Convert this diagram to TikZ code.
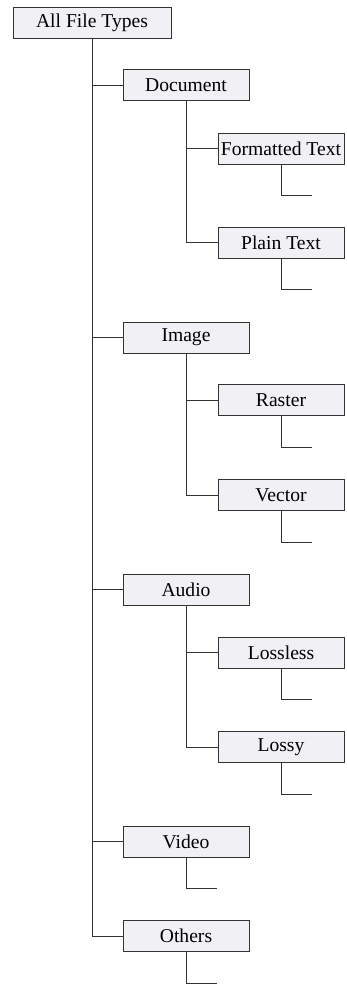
\documentclass[tikz,border=0pt]{standalone}
\usepackage{fontspec}
\setmainfont{Liberation Serif}
\definecolor{boxfill}{RGB}{240,240,245}
\definecolor{linegray}{RGB}{50,50,50}

\begin{document}
\begin{tikzpicture}[x=1pt,y=-1pt,
    typebox/.style={draw=linegray,fill=boxfill,line width=0.9pt,minimum width=126pt,minimum height=31pt,inner sep=0pt,font=\fontsize{19.6}{22}\selectfont},
    link/.style={draw=linegray,line width=0.9pt}]
  \useasboundingbox (0,0) rectangle (347,984);

  \node[typebox,minimum width=158pt] (all) at (92,22.5) {All File Types};

  \node[typebox] (doc) at (186,85) {Document};
  \node[typebox] (fmt) at (281,148.5) {Formatted Text};
  \node[typebox] (plain) at (281,242.5) {Plain Text};
  \node[typebox] (img) at (186,337.5) {Image};
  \node[typebox] (raster) at (281,400) {Raster};
  \node[typebox] (vector) at (281,495) {Vector};
  \node[typebox] (audio) at (186,589.5) {Audio};
  \node[typebox] (lossless) at (281,652.5) {Lossless};
  \node[typebox] (lossy) at (281,747) {Lossy};
  \node[typebox] (video) at (186,841.5) {Video};
  \node[typebox] (others) at (186,936) {Others};

  % trunk and branches
  \draw[link] (all.south) |- (doc.west);
  \draw[link] (all.south) |- (img.west);
  \draw[link] (all.south) |- (audio.west);
  \draw[link] (all.south) |- (video.west);
  \draw[link] (all.south) |- (others.west);

  \draw[link] (doc.south) |- (fmt.west);
  \draw[link] (doc.south) |- (plain.west);
  \draw[link] (img.south) |- (raster.west);
  \draw[link] (img.south) |- (vector.west);
  \draw[link] (audio.south) |- (lossless.west);
  \draw[link] (audio.south) |- (lossy.west);

  % empty stubs
  \foreach \n in {fmt,plain,raster,vector,lossless,lossy,video,others}
    \draw[link] (\n.south) -- ++(0,31) -- ++(31,0);
\end{tikzpicture}
\end{document}
